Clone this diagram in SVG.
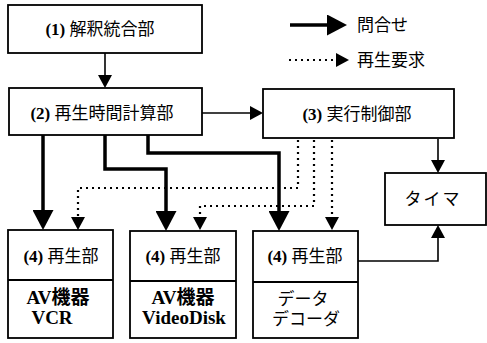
<svg xmlns="http://www.w3.org/2000/svg" width="487" height="343" viewBox="0 0 487 343">
<style>
.box{fill:#fff;stroke:#000;stroke-width:1.8}
.t{font-family:"Liberation Serif","Noto Sans CJK JP",serif;font-size:17px;fill:#000;text-anchor:middle}
.b{font-weight:bold}
.big{font-size:19px}
.thick{fill:none;stroke:#000;stroke-width:3.5}
.thin{fill:none;stroke:#000;stroke-width:1.6}
.dot{fill:none;stroke:#000;stroke-width:2.2;stroke-dasharray:2 4}
</style>
<defs>
<marker id="ah" markerUnits="userSpaceOnUse" viewBox="0 0 20 21" markerWidth="20" markerHeight="21" refX="8" refY="10.5" orient="auto"><path d="M0,0L20,10.5L0,21z" fill="#000"/></marker>
<marker id="as" markerUnits="userSpaceOnUse" viewBox="0 0 13 14" markerWidth="13" markerHeight="14" refX="5" refY="7" orient="auto"><path d="M0,0L13,7L0,14z" fill="#000"/></marker>
</defs>
<g id="legend">
<line class="thick" x1="290" y1="25" x2="335" y2="25" marker-end="url(#ah)"/>
<text class="t" x="357" y="31" style="text-anchor:start">問合せ</text>
<line class="dot" x1="289" y1="60" x2="341" y2="60" marker-end="url(#as)"/>
<text class="t" x="357" y="66" style="text-anchor:start">再生要求</text>
</g>
<g id="connectors">
<line class="thin" x1="105" y1="53" x2="105" y2="80" marker-end="url(#as)"/>
<line class="thin" x1="202" y1="113" x2="255" y2="113" marker-end="url(#as)"/>
<line class="thin" x1="438" y1="139" x2="438" y2="165" marker-end="url(#as)"/>
<polyline class="thin" points="358,261 438,261 438,233" marker-end="url(#as)"/>
<polyline class="thick" points="43,135 43,218" marker-end="url(#ah)"/>
<polyline class="thick" points="105,135 105,169 166,169 166,219" marker-end="url(#ah)"/>
<polyline class="thick" points="148,135 148,153 279,153 279,219" marker-end="url(#ah)"/>
<polyline class="dot" points="298,140 298,188 78,188 78,222" marker-end="url(#as)"/>
<polyline class="dot" points="314,140 314,206 200,206 200,222" marker-end="url(#as)"/>
<polyline class="dot" points="332,140 332,222" marker-end="url(#as)"/>
</g>
<g id="n1">
<rect class="box" x="8" y="5" width="194" height="48"/>
<text class="t" x="100" y="35"><tspan class="b">(1)</tspan> 解釈統合部</text>
</g>
<g id="n2">
<rect class="box" x="9" y="88" width="193" height="47"/>
<text class="t" x="102" y="119"><tspan class="b">(2)</tspan> 再生時間計算部</text>
</g>
<g id="n3">
<rect class="box" x="263" y="89" width="191" height="49"/>
<text class="t" x="357" y="120"><tspan class="b">(3)</tspan> 実行制御部</text>
</g>
<g id="timer">
<rect class="box" x="385" y="173" width="101" height="52"/>
<text class="t" x="433" y="205" letter-spacing="2">タイマ</text>
</g>
<g id="n4a">
<rect class="box" x="8" y="230" width="105" height="108"/>
<line class="box" x1="8" y1="280" x2="113" y2="280"/>
<text class="t" x="61" y="262"><tspan class="b">(4)</tspan> 再生部</text>
<text class="t b big" x="58" y="304">AV機器</text>
<text class="t b big" x="52" y="324">VCR</text>
</g>
<g id="n4b">
<rect class="box" x="130" y="231" width="106" height="107"/>
<line class="box" x1="130" y1="281" x2="236" y2="281"/>
<text class="t" x="183" y="262"><tspan class="b">(4)</tspan> 再生部</text>
<text class="t b big" x="183" y="304">AV機器</text>
<text class="t b big" x="184" y="324">VideoDisk</text>
</g>
<g id="n4c">
<rect class="box" x="253" y="231" width="105" height="107"/>
<line class="box" x1="253" y1="282" x2="358" y2="282"/>
<text class="t" x="305" y="262"><tspan class="b">(4)</tspan> 再生部</text>
<text class="t" x="303" y="305">データ</text>
<text class="t" x="306" y="325">デコーダ</text>
</g>
</svg>
